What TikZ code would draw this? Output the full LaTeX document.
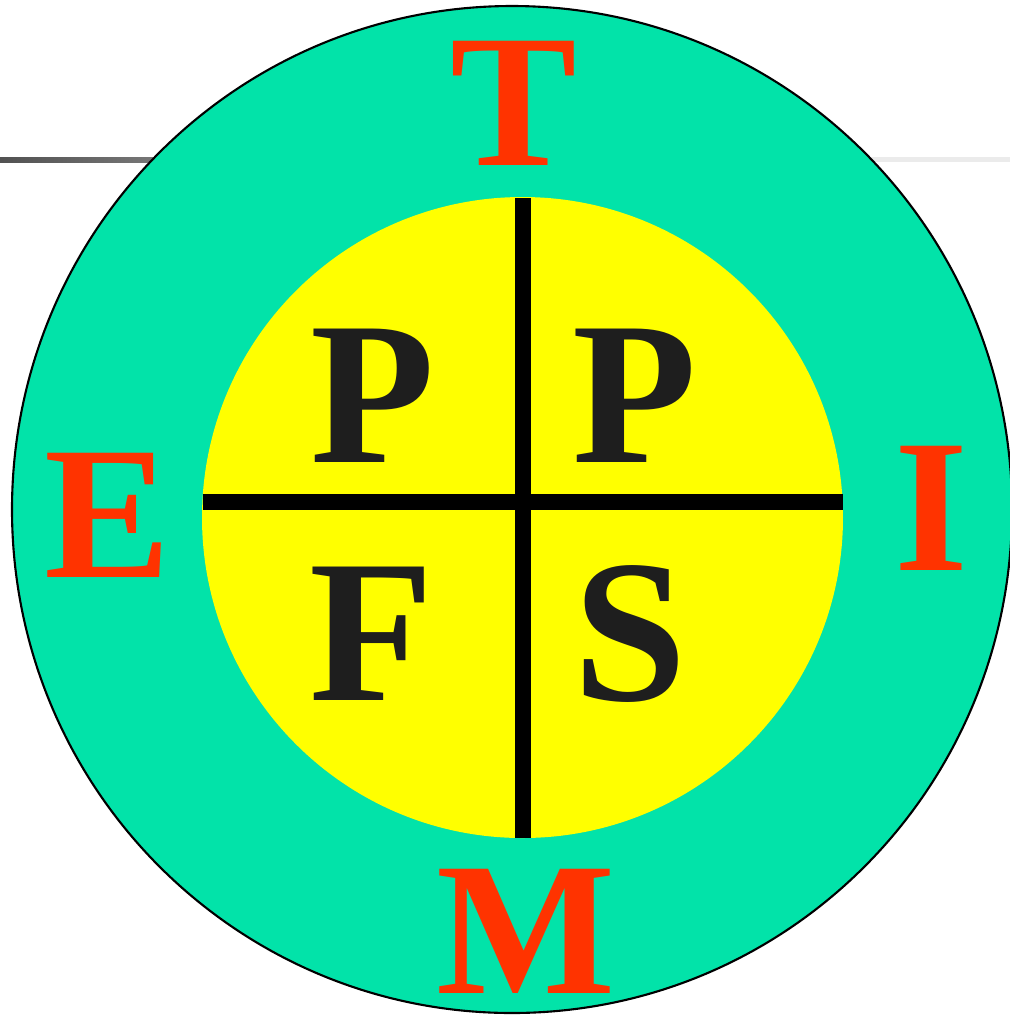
\documentclass[tikz,border=0pt]{standalone}
\usepackage{fontspec}
\setmainfont{Liberation Serif}
\usepackage{xcolor}
\definecolor{ring}{HTML}{02E3A9}
\definecolor{core}{HTML}{FFFF00}
\definecolor{redletter}{HTML}{FF3300}
\definecolor{ink}{HTML}{1E1E1E}
\tikzset{
  every picture/.style={line join=round},
  outer/.style={font=\fontsize{54}{54}\selectfont\bfseries, text=redletter, inner sep=0pt, anchor=base},
  inner/.style={font=\fontsize{58}{58}\selectfont\bfseries, text=ink, inner sep=0pt, anchor=base},
  bar/.style={line width=0.16cm, black},
}

\begin{document}
\begin{tikzpicture}
\useasboundingbox (0,0) rectangle (10.10,-10.15);
% rule behind the ring
\shade[left color=black!68, right color=black!52] (0,-1.57) rectangle (1.70,-1.62);
\fill[black!8] (8.60,-1.57) rectangle (10.10,-1.62);
% ring and core
\draw[fill=ring, line width=0.6pt] (5.12,-5.095) ellipse (5.00 and 5.035);
\node[circle, fill=core, minimum size=6.41cm, inner sep=0pt] (core) at (5.225,-5.175) {};
\coordinate (top) at (5.23,-1.98);
\coordinate (bottom) at (5.23,-8.38);
\coordinate (left) at (2.03,-5.02);
\coordinate (right) at (8.43,-5.02);
\draw[bar] (top) -- (bottom);
\draw[bar] (left) -- (right);
% letters
\node[outer] (t) at (5.14,-1.65) {T};
\node[outer] (e) at (1.08,-5.77) {E};
\node[outer] (i) at (9.31,-5.70) {I};
\node[outer] (m) at (5.26,-9.93) {M};
\node[inner] (pl) at (3.73,-4.62) {P};
\node[inner] (pr) at (6.35,-4.62) {P};
\node[inner] (f) at (3.72,-7.00) {F};
\node[inner] (s) at (6.30,-7.00) {S};
\end{tikzpicture}
\end{document}
